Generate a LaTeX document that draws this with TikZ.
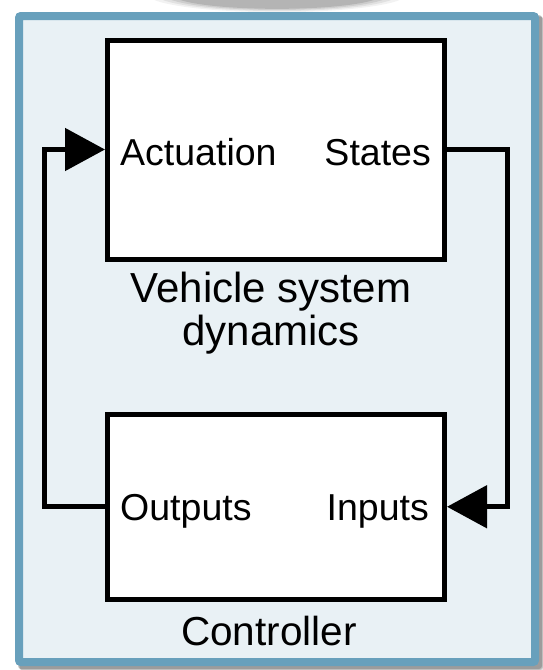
\documentclass[tikz,border=0pt]{standalone}
\usepackage{fontspec}
\setmainfont{Liberation Sans}
\usetikzlibrary{arrows.meta}

\definecolor{panelblue}{RGB}{104,160,188}
\definecolor{panelfill}{RGB}{233,241,245}

\tikzset{
  blockbox/.style={draw=black, line width=5pt, fill=white, inner sep=0pt},
  wire/.style={draw=black, line width=5pt},
  feed/.style={wire, -{Triangle[length=40pt,width=42pt]}},
  portlabel/.style={font=\fontsize{37.5}{40}\selectfont, inner sep=0pt},
  caption/.style={font=\fontsize{42}{43}\selectfont, align=center, inner sep=0pt},
}

\begin{document}
\begin{tikzpicture}[x=1pt, y=-1pt]
  \useasboundingbox (0,0) rectangle (542,670);

  % soft shadow of the tab above the panel
  \begin{scope}
    \clip (0,0) rectangle (542,13);
    \foreach \r/\o in {130/0.05, 122/0.07, 114/0.09, 106/0.12}
      \fill[black, opacity=\o] (277,-6) ellipse [x radius=\r, y radius=0.14*\r];
  \end{scope}

  % drop shadow of the panel
  \foreach \d/\o in {5/0.10, 4/0.15, 3/0.2}
    \fill[black, opacity=\o, rounded corners=3pt] (15+\d,12+\d) rectangle (539+\d,666+\d);

  % panel
  \draw[panelblue, fill=panelfill, line width=8pt, rounded corners=2pt]
    (19,16) rectangle (535,662);

  % blocks
  \node[blockbox, minimum width=337pt, minimum height=219pt] (vsd) at (276,149.5) {};
  \node[blockbox, minimum width=337pt, minimum height=185.5pt] (ctrl) at (276,506.75) {};

  \node[caption, anchor=base] (vsdcap) at (271,345) {Vehicle system\\dynamics};
  \node[caption, anchor=base, font=\fontsize{40.5}{43}\selectfont] (ctrlcap) at (269,645) {Controller};

  % port labels
  \node[portlabel, anchor=base west] (act) at (120,165) {Actuation};
  \node[portlabel, anchor=base east] (st)  at (431,165) {States};
  \node[portlabel, anchor=base west] (out) at (120,520) {Outputs};
  \node[portlabel, anchor=base east] (in)  at (429,520) {Inputs};

  % feedback loop
  \draw[feed] (vsd.east) -- (507.5,149.5) |- (ctrl.east);
  \draw[feed] (ctrl.west) -- (44.5,506.75) |- (vsd.west);
\end{tikzpicture}
\end{document}
